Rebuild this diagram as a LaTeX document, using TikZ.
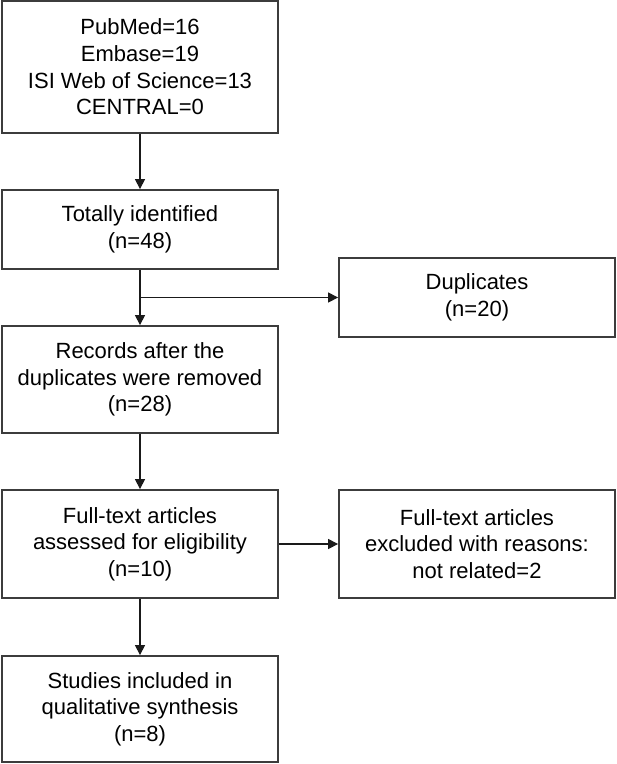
\documentclass[tikz,border=0pt]{standalone}
\usepackage{fontspec}
\setmainfont{Liberation Sans}
\usetikzlibrary{arrows.meta}
\definecolor{boxline}{HTML}{3C3C3C}
\definecolor{arrline}{HTML}{1A1A1A}
\tikzset{
  flowbox/.style={draw=boxline, line width=1.8pt, align=center, inner sep=0pt,
    font=\fontsize{22}{26.7}\selectfont, text=black},
  mainbox/.style={flowbox, minimum width=276pt},
  sidebox/.style={flowbox, minimum width=276pt},
  conn/.style={draw=arrline, line width=1.2pt, -{Triangle[length=10pt,width=10pt]}},
}
\begin{document}
\begin{tikzpicture}[x=1pt,y=-1pt]
\useasboundingbox (0,0) rectangle (617,764);
\node[mainbox, minimum height=132pt] (src) at (140,67) {PubMed=16\\Embase=19\\ISI Web of Science=13\\CENTRAL=0};
\node[mainbox, minimum height=79pt] (tot) at (140,229.5) {Totally identified\\(n=48)};
\node[sidebox, minimum height=79pt] (dup) at (477,297.5) {Duplicates\\(n=20)};
\node[mainbox, minimum height=107pt] (rec) at (140,379.5) {Records after the\\duplicates were removed\\(n=28)};
\node[mainbox, minimum height=108pt] (full) at (140,544) {Full-text articles\\assessed for eligibility\\(n=10)};
\node[sidebox, minimum height=108pt] (excl) at (477,544) {Full-text articles\\excluded with reasons:\\not related=2};
\node[mainbox, minimum height=106pt] (incl) at (140,709) {Studies included in\\qualitative synthesis\\(n=8)};
\coordinate (junc) at (tot.south |- dup.west);
\draw[conn] (src.south) -- (tot.north);
\draw[conn] (tot.south) -- (rec.north);
\draw[conn] (junc) -- (dup.west);
\draw[conn] (rec.south) -- (full.north);
\draw[conn] (full.east) -- (excl.west);
\draw[conn] (full.south) -- (incl.north);
\end{tikzpicture}
\end{document}
